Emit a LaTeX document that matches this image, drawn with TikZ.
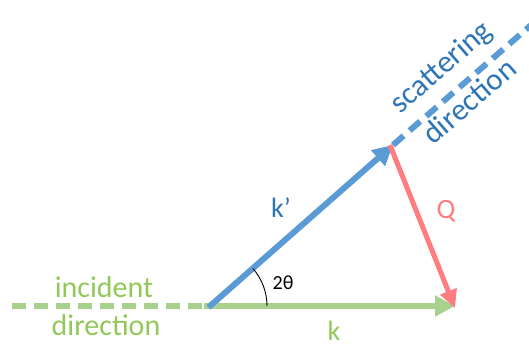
\documentclass[tikz,border=0pt]{standalone}
\usepackage{fontspec}
\setmainfont{Carlito}
\usetikzlibrary{arrows.meta,positioning}
\definecolor{kblue}{RGB}{91,155,213}
\definecolor{kbluetext}{RGB}{46,117,182}
\definecolor{kgreen}{RGB}{169,209,142}
\definecolor{kgreentext}{RGB}{146,200,90}
\definecolor{qred}{RGB}{255,124,128}

\begin{document}
\begin{tikzpicture}[x=1pt, y=-1pt,
  vec/.style={line width=6pt, -{Triangle[length=20pt,width=20pt]}},
  dir/.style={line width=6pt, dash pattern=on 14pt off 8pt},
  lbl/.style={font=\fontsize{28}{30}\selectfont, inner sep=1pt}]
\useasboundingbox (0,0) rectangle (529,345);
\coordinate (O) at (210,306);
\coordinate (kend) at (455,306);
\coordinate (kpend) at (393,145);
\coordinate (inc) at (12,306);
\coordinate (scat) at (545,13);
% incident beam
\draw[dir, kgreen] (inc) -- ([xshift=-6pt]O);
\draw[vec, kgreen] ([xshift=-6pt]O) -- (kend);
% scattered beam
\draw[dir, kblue] (kpend) -- (scat);
\draw[vec, kblue, shorten <=-2pt] (O) -- (kpend);
% scattering vector
\draw[vec, qred, line width=5pt, -{Triangle[length=18pt,width=17pt]}] ([xshift=-3pt]kpend) -- ([yshift=-2pt]kend);
% angle
\draw[line width=0.9pt] ([xshift=57pt]O) arc[start angle=0, end angle=41, radius=57pt];
\node[font=\fontsize{20}{22}\selectfont] (ang) at (283,283) {2θ};
% labels
\node[lbl, kbluetext] (kplbl) at (281,208) {k’};
\node[lbl, qred] (qlbl) at (446,211) {Q};
\node[lbl, kgreentext] (klbl) at (334,331) {k};
\node[lbl, kgreentext, font=\fontsize{30}{32}\selectfont] (inclbl) at (104,287) {incident};
\node[lbl, kgreentext, font=\fontsize{30}{32}\selectfont] (dirlbl) at (106,325) {direction};
\node[lbl, kbluetext, rotate=41, font=\fontsize{31}{33}\selectfont] (scatlbl) at (442,68) {scattering};
\node[lbl, kbluetext, rotate=41, font=\fontsize{31}{33}\selectfont] (sdirlbl) at (469,101) {direction};
\end{tikzpicture}
\end{document}
